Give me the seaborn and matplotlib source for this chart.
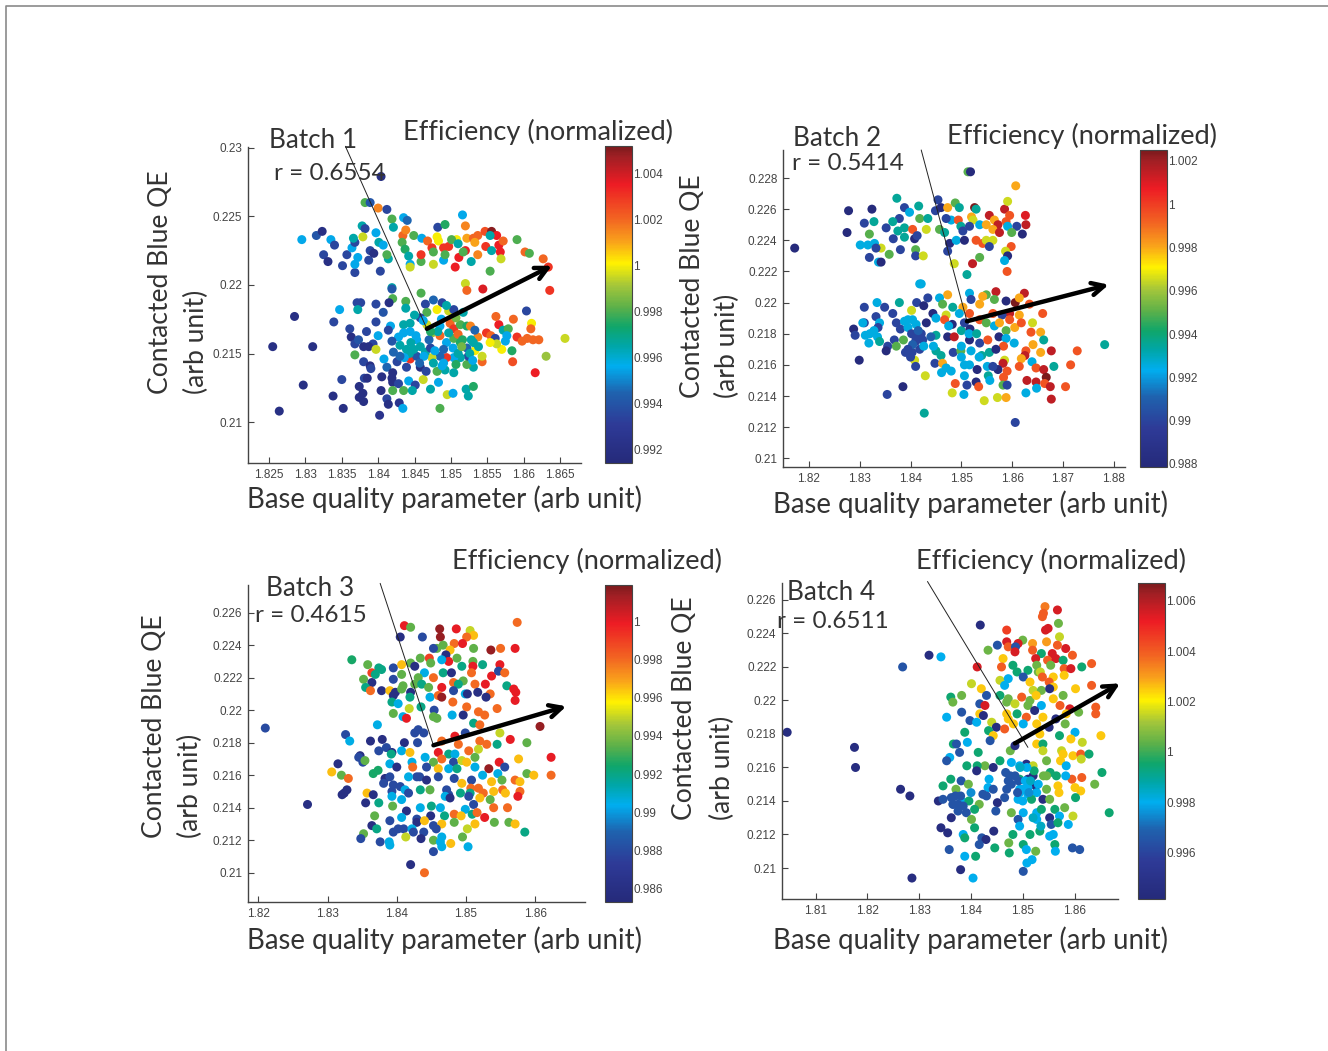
import matplotlib
matplotlib.use("Agg")
import matplotlib.pyplot as plt
from matplotlib.colors import Normalize, LinearSegmentedColormap
from matplotlib.cm import ScalarMappable
from matplotlib.lines import Line2D
import pandas as pd
import seaborn as sns

# (base quality, contacted blue QE, normalized efficiency)
b1_upper = [(1.8295,.2233,.9955),(1.8315,.2236,.994),(1.8323,.2239,.992),(1.8335,.2233,.9955),(1.834,.2229,.9935),(1.8325,.2222,.9935),(1.8331,.2217,.992),(1.8351,.2214,.9935),(1.8357,.2222,.9935),(1.8368,.2209,.9935),
(1.8368,.2215,.9955),(1.8372,.222,.9955),(1.8364,.2227,.9955),(1.8368,.2231,.9935),(1.8366,.2234,.9965),(1.8378,.2243,.9965),(1.8382,.2241,.9935),(1.8379,.2235,.9995),(1.8389,.2225,.9935),(1.8387,.2218,.9935),
(1.8394,.2223,.992),(1.8397,.2238,.9955),(1.8403,.221,.9935),(1.8401,.2231,.9965),(1.8407,.2229,.9955),(1.8414,.2219,.9965),(1.8412,.2222,.998),(1.8419,.2248,.998),(1.8421,.2242,.9965),(1.8435,.2249,.9955),
(1.844,.2247,.9945),(1.8434,.2236,1.002),(1.8438,.224,1.0015),(1.8433,.2231,.998),(1.8449,.2236,.998),(1.8437,.2226,.9975),(1.8442,.2221,.9965),(1.8444,.2215,.9955),(1.8444,.2213,.9995),(1.8459,.2217,.998),
(1.8459,.2222,1.003),(1.846,.2234,.9955),(1.8468,.2232,1.002),(1.8474,.2227,1.003),(1.8476,.2224,.998),(1.8476,.2215,.9995),(1.8482,.2242,.9935),(1.8492,.2244,.9975),(1.8481,.2235,1.0),(1.8483,.2232,1.0),
(1.8490,.2218,.9955),(1.849,.2227,1.003),(1.8497,.2228,1.003),(1.8492,.2222,.998),(1.8508,.2233,1.0),(1.8501,.2233,.998),(1.851,.223,.9965),(1.8506,.2213,1.0035),(1.8511,.222,1.0035),(1.8520,.2225,1.0035),
(1.8517,.2224,.998),(1.8516,.2251,.9955),(1.852,.2243,1.0015),(1.8522,.2234,1.001),(1.8528,.2217,.9965),(1.8531,.2234,1.002),(1.8537,.2236,1.002),(1.8533,.2231,1.001),(1.8537,.2222,1.0015),(1.8547,.2239,1.0025),
(1.8556,.2239,1.005),(1.8563,.2236,1.0035),(1.8554,.2236,.9965),(1.8548,.2228,1.003),(1.8556,.2225,.9965),(1.8566,.2229,1.0035),(1.8572,.2232,1.002),(1.8568,.2224,1.0035),(1.8569,.2219,.9995),(1.8554,.221,.998),
(1.8591,.2233,.998),(1.8602,.2224,1.002),(1.8608,.2223,.998),(1.8627,.2219,1.002),(1.8634,.2213,1.003),(1.8636,.2196,1.003),(1.8544,.2197,1.0038),(1.8520,.2201,.9995),(1.8522,.2196,1.002),
(1.8404,.2279,.992),(1.8382,.226,.998),(1.8389,.226,.994),(1.84,.2256,1.0015),(1.8412,.2255,.9935)]
b1_lower = [(1.8419,.2198,.9965),(1.8419,.2197,.994),(1.8459,.2194,.998),(1.8420,.2190,.998),(1.8371,.2187,.9935),(1.8376,.2187,.9935),(1.8397,.2186,.9935),(1.8415,.2187,.992),(1.8438,.2188,.998),(1.8476,.2189,.9945),
(1.8488,.2187,.9935),(1.8465,.2186,.9935),(1.8347,.2182,.9955),(1.8372,.2182,.9965),(1.8407,.218,.994),(1.8438,.2183,.9965),(1.8285,.2177,.992),(1.8339,.2173,.9935),(1.8397,.2173,.9935),(1.8361,.2168,.9935),
(1.8384,.2166,.9935),(1.8400,.2163,.9955),(1.8363,.2162,.992),(1.8368,.2157,.9935),(1.8373,.216,.994),(1.8393,.2157,.9935),(1.838,.2155,.992),(1.8387,.2155,.992),(1.8397,.2153,.9995),(1.8368,.2149,.998),
(1.8408,.2146,.9955),(1.8255,.2155,.992),(1.831,.2155,.992),(1.8380,.2144,.9935),(1.8389,.2141,.992),(1.839,.2139,.9935),(1.8412,.214,.9945),(1.8420,.2136,.992),(1.8426,.2144,.9935),(1.8439,.214,.9935),
(1.8458,.2140,.992),(1.8350,.2131,.9935),(1.8381,.2132,.9935),(1.8385,.2132,.992),(1.8405,.2133,.992),(1.8419,.2132,.992),(1.8420,.2129,.992),(1.8428,.2128,.9935),(1.8442,.213,.9955),(1.8451,.2127,.9935),
(1.8462,.2131,.9995),(1.8297,.2127,.992),(1.8374,.2126,.992),(1.8379,.2121,.992),(1.8404,.2123,.992),(1.8420,.2123,.998),(1.8435,.2123,.998),(1.8447,.2123,.9965),(1.8472,.2124,.9965),(1.8483,.2129,.9955),
(1.8338,.2119,.992),(1.8374,.2118,.992),(1.8380,.2115,.992),(1.8412,.2117,.9935),(1.8414,.2113,.992),(1.8429,.2114,.9925),(1.8434,.2110,.9955),(1.8352,.211,.992),(1.8264,.2108,.992),(1.8402,.2105,.9925),
(1.8485,.211,.998),(1.8495,.2120,.9995),(1.8503,.2121,.9955),(1.8521,.2124,.9965),(1.8531,.2126,.9975),(1.8524,.2119,.9965),(1.8466,.2137,.9935),
(1.8467,.2180,.998),(1.8481,.2182,1.0),(1.8497,.2181,.9995),(1.8504,.2182,.9935),(1.8517,.218,.9965),(1.8494,.2185,.9965),(1.8444,.2172,.9965),(1.8458,.2176,.9935),(1.8467,.2171,.9995),(1.8474,.2165,.999),
(1.8485,.217,.9955),(1.8499,.2172,1.002),(1.8504,.2168,1.003),(1.8513,.2171,.998),(1.8522,.2170,.9975),(1.8527,.217,1.0015),(1.8562,.2177,1.002),(1.8566,.2171,1.0035),(1.8586,.2175,1.002),(1.8604,.2181,.9935),
(1.8611,.2172,1.0),(1.861,.2168,1.002),(1.8549,.2165,1.003),(1.8555,.2163,1.002),(1.8561,.2161,.9935),(1.8572,.2167,.9965),(1.8579,.2168,.998),(1.8577,.2163,.9955),(1.8575,.2159,.9955),(1.8591,.2162,1.003),
(1.8598,.2159,1.002),(1.8605,.2161,1.002),(1.8613,.216,1.002),(1.8621,.216,1.002),(1.8657,.2161,.9995),(1.8631,.2148,.999),(1.8616,.2136,1.0035),(1.8585,.2144,1.0025),(1.8584,.2152,.9975),(1.8570,.2153,1.0),
(1.8563,.2157,.9995),(1.8554,.2158,1.0),(1.8543,.2144,1.002),(1.8543,.2148,.9995),(1.8533,.2152,1.0),(1.8531,.214,.9965),(1.8537,.2162,1.0015),(1.8533,.2167,.9945),(1.8522,.2142,.998),(1.8524,.2148,.9935),
(1.8504,.2136,.9965),(1.8492,.2138,.9965),(1.8481,.2137,.998),(1.8488,.2141,.9955),(1.8513,.2147,.9965),(1.8504,.2147,.9955),(1.8494,.2147,1.003),(1.8485,.2148,.9945),(1.8474,.2147,.9995),(1.8444,.2146,1.003),
(1.8453,.2148,.994),(1.8465,.2151,.9965),(1.8472,.2154,.9935),(1.8449,.2153,.9965),(1.8439,.2153,.9965),(1.8430,.2156,.9965),(1.8428,.2162,.9955),(1.8419,.2159,.994),(1.8421,.2151,.9945),(1.8417,.2170,.9955),
(1.8414,.2167,.9935),(1.8435,.2171,.9965),(1.8444,.2166,.9955),(1.8453,.2160,.9955),(1.8485,.2163,1.002),(1.8494,.2158,.9955),(1.8504,.2161,.998),(1.8513,.2158,.9975),(1.8522,.2154,.9945),(1.8531,.2158,.9965),(1.851,.2164,1.002)]
b1_core = [(1.8435,.2165,.9955),(1.8445,.2158,.9965),(1.8452,.2163,.9955),(1.8458,.2155,.9965),(1.8463,.2148,.9955),(1.8470,.2160,.9945),(1.8478,.2152,.9955),(1.8482,.2166,.9965),(1.8490,.2153,.9945),(1.8497,.2165,.9965),
(1.8503,.2154,.9955),(1.8510,.2150,.9965),(1.8516,.2160,.9975),(1.8526,.2150,.9965),(1.8443,.2150,.9965),(1.8436,.2147,.9955),(1.8457,.2143,.9945),(1.8476,.2143,.9965),(1.8490,.2143,.9955),(1.8507,.2142,.9975),
(1.8515,.2155,.9985),(1.8528,.2160,.9965),(1.8538,.2155,.9965),(1.8430,.2148,.9945),(1.8472,.2166,.9975),(1.8462,.2174,.9955),(1.8450,.2178,.9965),(1.8487,.2175,.9955),(1.8507,.2176,.9985),(1.8530,.2145,.9955)]

b2_upper = [(1.8172,.2235,.988),(1.8513,.2284,.995),(1.8518,.2284,.988),(1.8607,.2275,.998),(1.8373,.2267,.9935),(1.8278,.2259,.988),(1.8324,.226,.988),(1.8388,.2261,.99),(1.8416,.2262,.9935),(1.8454,.2266,.99),
(1.8398,.2258,.9925),(1.8378,.2254,.99),(1.8309,.2251,.99),(1.8328,.2252,.9935),(1.8275,.2245,.988),(1.8319,.2244,.995),(1.8352,.2248,.99),(1.8365,.2252,.9935),(1.8388,.2248,.9935),(1.8375,.2246,.9935),
(1.8366,.2241,.99),(1.8388,.2242,.9935),(1.8404,.2247,.9995),(1.8418,.2254,.995),(1.8434,.2254,.9935),(1.8431,.2247,.9965),(1.8408,.2241,.988),(1.8413,.2243,.99),(1.8301,.2237,.9925),(1.8316,.2237,.9925),
(1.8329,.2238,.9925),(1.8342,.2235,.9965),(1.8332,.2235,.99),(1.8380,.2234,.99),(1.8410,.2234,.995),(1.841,.223,.99),(1.8358,.2231,.995),(1.8425,.223,.9965),(1.8319,.2229,.99),(1.8337,.2226,.9925),
(1.8342,.2226,.988),(1.8457,.2247,.995),(1.8449,.2259,.99),(1.8460,.2261,.988),(1.8473,.2261,.998),(1.8488,.2264,.995),(1.8496,.2261,.9935),(1.8480,.2253,.9925),(1.8494,.2253,.9995),(1.8470,.2254,.99),
(1.8499,.2249,.9935),(1.8477,.2238,.988),(1.8467,.2245,.9935),(1.8490,.2240,.9925),(1.8506,.2240,.988),(1.8473,.2233,.99),(1.8526,.2261,1.0025),(1.8529,.226,.9935),(1.852,.2255,.998),(1.8523,.2253,.9965),
(1.8536,.225,.9925),(1.8516,.2249,.99),(1.8503,.2246,.99),(1.8555,.2256,1.0015),(1.8565,.2253,.998),(1.8572,.225,1.0015),(1.8562,.2247,.998),(1.8549,.225,.998),(1.8529,.224,.9995),(1.8542,.2238,.9995),
(1.8549,.224,.9965),(1.8575,.2245,1.0015),(1.8585,.2260,1.0015),(1.8591,.2265,.9965),(1.8595,.2256,.9995),(1.8588,.2252,.9995),(1.8626,.2256,1.001),(1.8627,.225,1.0015),(1.8609,.2249,.99),(1.862,.2244,.988),
(1.8591,.2249,.9925),(1.8599,.2245,.995),(1.8562,.2240,.9965),(1.8555,.2236,.99),(1.8598,.2236,.9995),(1.8587,.2233,.9965),(1.8591,.2230,.988),(1.8536,.2229,.995),(1.8585,.2227,.9925),(1.8522,.2225,1.0015),
(1.8590,.222,.9995),(1.8486,.2225,.9965),(1.8511,.2218,.9935)]
b2_lower = [(1.8418,.2212,.9925),(1.8421,.2212,.9925),(1.8568,.2207,1.0015),(1.8624,.2206,1.0015),(1.8516,.2206,.9925),(1.8549,.2205,.995),(1.8542,.2204,.998),(1.8473,.2205,.998),(1.8457,.2203,.9925),(1.8434,.2203,.99),
(1.8334,.2200,.9925),(1.8309,.2197,.99),(1.8349,.2197,.99),(1.8378,.22,.9935),(1.8412,.2200,.99),(1.8426,.2198,.988),(1.8463,.2199,.995),(1.8483,.2197,.9935),(1.8503,.2197,.998),(1.8519,.2202,.99),
(1.8536,.2199,.998),(1.8565,.2202,.995),(1.8588,.2201,.988),(1.8606,.22,1.0025),(1.8614,.2203,.998),(1.8634,.2199,.9995),(1.8660,.2193,.9995),(1.8365,.2193,.99),(1.8402,.2195,.9965),(1.8444,.2193,.988),
(1.8470,.2192,.9965),(1.8496,.2193,.9925),(1.8516,.2193,.9995),(1.8332,.2191,.99),(1.8614,.2192,.998),(1.8595,.2193,1.0015),(1.858,.2192,.99),(1.8562,.2193,.9995),(1.8309,.2187,.99),(1.8306,.2187,.9925),
(1.8288,.2183,.988),(1.8291,.2179,.99),(1.8311,.2179,.9925),(1.8339,.2187,.9925),(1.8336,.2184,.99),(1.8372,.2187,.99),(1.838,.2183,.99),(1.8395,.2189,.9925),(1.8404,.2189,.9925),(1.8411,.2186,.9925),
(1.8431,.2187,.988),(1.8421,.2180,.99),(1.8450,.2190,.9925),(1.8467,.2189,.9995),(1.8482,.2186,.988),(1.85,.2182,.9935),(1.8506,.2187,.99),(1.8517,.2183,.988),(1.8536,.2189,.9995),(1.8549,.2187,.995),
(1.8565,.2185,.9925),(1.8575,.2187,.998),(1.8588,.2182,.995),(1.8595,.2189,.9995),(1.8605,.2184,.998),(1.8640,.2187,.9965),(1.8618,.2187,.9995),(1.8637,.2181,.9995),(1.8656,.2181,.998),(1.8335,.2178,.9925),
(1.8339,.2175,.9935),(1.8368,.2176,.99),(1.8386,.2176,.995),(1.8411,.2177,.99),(1.8424,.2176,.99),(1.8450,.2179,.9935),(1.8473,.2178,.988),(1.8486,.2178,1.0015),(1.8516,.2176,.988),(1.8536,.2174,.99),
(1.8552,.2176,.9995),(1.8574,.2178,.988),(1.8588,.2177,.9925),(1.8604,.2174,.9925),(1.8583,.2172,.9995),(1.8662,.2176,.9935),(1.8641,.2173,.998),(1.8355,.2172,.99),(1.8372,.2172,.995),(1.8352,.2169,.988),
(1.8390,.2168,.99),(1.8403,.2168,.99),(1.8450,.2169,.9935),(1.846,.2166,.9935),(1.8484,.2168,.99),(1.8499,.2169,.995),(1.8519,.2169,.9925),(1.8540,.2166,.9935),(1.8555,.2168,.9935),(1.8568,.217,.988),
(1.8627,.2169,.9995),(1.8625,.2166,1.0015),(1.8656,.2168,.998),(1.8677,.2169,1.0015),(1.8728,.2169,.9995),(1.8782,.2173,.9935),(1.8618,.2164,.998),(1.8408,.2163,.9965),(1.8448,.2161,.99),(1.8463,.2161,.998),
(1.8500,.2165,.9925),(1.8506,.216,.9925),(1.8516,.2160,.9925),(1.8551,.2159,.9925),(1.8585,.2163,.9965),(1.8582,.2161,1.0015),(1.8614,.2159,.9995),(1.8639,.2162,.9925),(1.841,.2159,.99),(1.8470,.2158,.9925),
(1.8480,.2156,.9925),(1.8461,.2155,.9925),(1.8531,.2157,.988),(1.8572,.2157,.988),(1.8562,.2159,.99),(1.8590,.2156,.9995),(1.8647,.2158,.9995),(1.8662,.2157,1.0015),(1.8682,.2159,.9935),(1.8715,.2160,.9995),
(1.8667,.2152,1.0025),(1.8429,.2153,.9965),(1.8506,.2153,.9925),(1.8553,.2153,.9935),(1.8556,.2150,.9925),(1.8583,.2152,.9995),(1.8629,.2150,1.0015),(1.8647,.2149,1.0015),(1.8664,.2148,.9995),(1.8488,.2148,.9995),
(1.8511,.2147,.99),(1.8529,.2149,.988),(1.8534,.2146,.9995),(1.8582,.2147,.995),(1.8590,.2147,.99),(1.8675,.2146,1.0015),(1.8705,.2146,.9995),(1.8648,.2145,.9925),(1.8385,.2146,.988),(1.8482,.2142,.9965),
(1.8505,.2141,.9925),(1.8627,.2142,.9925),(1.8545,.2137,.9965),(1.8571,.2139,.9965),(1.8588,.2139,.998),(1.8677,.2138,1.0015),(1.8354,.2141,.99),(1.8427,.2129,.9935),(1.8606,.2123,.99),(1.8299,.2163,.988)]
b2_core = [(1.8388,.2188,.9925),(1.8395,.2184,.9925),(1.8402,.2180,.99),(1.8410,.2175,.99),(1.8418,.2170,.99),(1.8415,.2182,.991),(1.8404,.2173,.991),(1.8395,.2170,.99),(1.8400,.2165,.99),(1.8426,.2172,.9925),
(1.8440,.2178,.991),(1.8445,.2172,.9925),(1.8320,.2180,.9925),(1.8328,.2182,.9925),(1.8318,.2174,.9925),(1.8515,.2180,.9925),(1.8530,.2180,.9935),(1.8475,.2185,.9925),(1.8500,.2172,.9925),(1.8535,.2165,.9925)]

b3_upper = [(1.8411,.2252,1.0),(1.842,.2251,.9935),(1.8405,.2245,.986),(1.8437,.2245,.988),(1.8462,.225,1.0015),(1.8463,.2245,1.0015),(1.8486,.225,1.0),(1.8506,.2249,.995),(1.8511,.2246,.9965),(1.8501,.2245,.998),
(1.8574,.2254,.998),(1.8483,.2241,.998),(1.8495,.2241,1.0),(1.8458,.2238,.9935),(1.8467,.224,.9935),(1.8453,.2238,.988),(1.8477,.2237,.9965),(1.8471,.2234,.986),(1.8511,.2238,.9935),(1.8536,.2237,1.0015),
(1.8550,.2238,.998),(1.8571,.2238,1.0),(1.8335,.2231,.9925),(1.8358,.2228,.9935),(1.8407,.2228,.9965),(1.842,.2229,.9935),(1.8434,.2232,.9935),(1.8447,.2232,.999),(1.8449,.2229,.9935),(1.8475,.2230,1.0),
(1.8465,.2231,.9905),(1.8487,.2232,.9935),(1.8494,.2227,.992),(1.851,.2230,.9935),(1.8510,.2227,1.0),(1.8524,.2228,.992),(1.8549,.2228,1.0),(1.8374,.2226,.992),(1.8378,.2225,.992),(1.8395,.2226,.988),
(1.8364,.2223,.999),(1.8352,.2219,.9935),(1.8369,.2222,.992),(1.8395,.2219,.988),(1.8407,.2222,.9935),(1.8426,.2227,.986),(1.8440,.2223,.9905),(1.8431,.222,.9935),(1.8453,.222,.998),(1.8467,.2223,.992),
(1.8479,.2223,.986),(1.8508,.2223,.998),(1.8537,.2221,1.0),(1.8547,.2224,.988),(1.8556,.2223,.998),(1.8364,.2217,.986),(1.8355,.2214,.992),(1.8362,.2212,.998),(1.8378,.2212,.986),(1.8390,.2212,.9965),
(1.8398,.2211,.986),(1.8395,.2209,.986),(1.8409,.2215,.9935),(1.8426,.2216,.9935),(1.8436,.2216,.992),(1.8446,.2214,.9935),(1.8465,.2214,1.0),(1.8482,.2217,.998),(1.8496,.2218,.9935),(1.8489,.2216,.992),
(1.8513,.2216,.998),(1.8528,.2216,1.0),(1.8559,.2215,.992),(1.8569,.2213,1.0),(1.8572,.2211,1.0),(1.8407,.2213,.9935),(1.842,.2211,.986),(1.8448,.2208,.9905),(1.8460,.2209,.998),(1.8465,.2208,1.0015),
(1.8482,.2212,.988),(1.8499,.2210,.9905),(1.8502,.2210,.986),(1.8517,.2211,.986),(1.8535,.2210,.998),(1.8529,.2208,.986),(1.8571,.2206,1.0),(1.8419,.2208,.992),(1.8393,.2205,.992),(1.8402,.2204,.9905),
(1.8418,.2201,.995),(1.8435,.2202,.992),(1.8454,.2200,.988),(1.8481,.2205,.998),(1.8501,.2202,.998),(1.8545,.2201,.998),(1.8395,.2198,.9935),(1.8409,.2196,.9905),(1.8414,.2195,1.0),(1.8453,.2196,.9935),
(1.8458,.2195,.9935),(1.8480,.2197,.9905),(1.8496,.2197,.986),(1.8518,.2199,.998),(1.8527,.2197,.998),(1.8511,.2192,.992),(1.8520,.2191,.998)]
b3_lower = [(1.8210,.2189,.988),(1.8372,.2191,.9905),(1.8607,.2190,1.0015),(1.8431,.2188,.988),(1.8426,.2186,.988),(1.8439,.2186,.988),(1.8326,.2185,.988),(1.8332,.2181,.9905),(1.8362,.2181,.986),(1.8379,.2182,.986),
(1.8411,.2180,.986),(1.8430,.2180,.988),(1.8484,.2184,1.0),(1.8499,.2186,.988),(1.8549,.2186,.995),(1.8564,.2182,1.0),(1.8588,.2180,.9935),(1.8465,.2181,.998),(1.8489,.2179,.998),(1.8520,.2181,.998),
(1.8530,.2179,.998),(1.8545,.2179,.992),(1.8385,.2177,.988),(1.8374,.2175,.988),(1.8393,.2174,.986),(1.8407,.2175,.9905),(1.8419,.2174,.9965),(1.8460,.2174,1.0),(1.8475,.2173,.992),(1.8484,.2173,.9905),
(1.8504,.2175,.998),(1.8518,.2176,.995),(1.8347,.2172,.986),(1.8345,.2171,.988),(1.8392,.2173,.992),(1.8351,.2168,.988),(1.8354,.2169,.9935),(1.8315,.2167,.986),(1.8390,.2167,.9905),(1.8422,.2168,.9905),
(1.8441,.2171,.9905),(1.8453,.2168,.9935),(1.8465,.2170,.998),(1.8482,.2168,.988),(1.8494,.2169,.995),(1.8501,.2168,.9965),(1.8513,.2171,.9935),(1.8576,.2170,.9965),(1.8623,.2171,1.0),(1.8548,.2168,1.0),
(1.8556,.2165,.988),(1.8533,.2164,1.0015),(1.8306,.2162,.9965),(1.8320,.2160,.9935),(1.8330,.2158,.998),(1.8366,.2161,.9925),(1.8373,.2163,.9925),(1.8400,.2165,.986),(1.8423,.2165,.998),(1.8429,.2159,.988),
(1.8460,.2164,.9965),(1.8443,.2165,.988),(1.8475,.2164,.9905),(1.8487,.2164,.992),(1.8513,.2165,.9905),(1.8524,.2160,.9905),(1.8546,.2161,.9905),(1.8588,.2161,.9935),(1.8598,.2160,.9965),(1.8623,.2160,.998),
(1.8383,.2158,.986),(1.8390,.2159,.988),(1.8417,.2159,.9905),(1.8433,.2159,.988),(1.8443,.2157,.986),(1.8460,.2159,.988),(1.8483,.2158,.988),(1.8508,.2157,.988),(1.8537,.2156,.9965),(1.8552,.2157,.9935),
(1.8571,.2157,.998),(1.8578,.2156,.9965),(1.8494,.2155,.9965),(1.8381,.2155,.988),(1.8395,.2154,.988),(1.8405,.2153,.988),(1.8412,.2151,.9905),(1.8328,.2151,.986),(1.8324,.2149,.986),(1.8321,.2148,.986),
(1.8357,.2149,.9965),(1.8366,.2148,.986),(1.8434,.2151,.992),(1.8448,.2151,.9935),(1.8472,.2151,.988),(1.8507,.2152,.998),(1.8518,.2152,.998),(1.8553,.2151,.998),(1.8578,.2150,.998),(1.8393,.2150,.988),
(1.8417,.2149,.988),(1.8475,.2148,.988),(1.8492,.2149,.992),(1.8506,.2149,.992),(1.8525,.2149,.998),(1.8540,.2150,.9965),(1.8557,.2149,.9965),(1.8575,.2147,1.0),(1.8355,.2143,.986),(1.8374,.2143,.992),
(1.8393,.2147,.9905),(1.8407,.2145,.9905),(1.8470,.2147,.9905),(1.8477,.2146,.986),(1.8504,.2147,.988),(1.8520,.2146,.9965),(1.8535,.2145,.9935),(1.8271,.2142,.986),(1.8394,.2141,.9935),(1.8434,.2140,.9905),
(1.8450,.2141,.992),(1.8463,.2140,.9905),(1.8499,.2139,.9905),(1.8511,.2142,.988),(1.8540,.2140,.998),(1.8560,.2140,.998),(1.8414,.2138,.986),(1.8483,.2136,.998),(1.8493,.2135,.9965),(1.8509,.2136,.992),
(1.8516,.2137,.998),(1.8527,.2134,1.0),(1.8368,.2135,.9935),(1.8390,.2132,.988),(1.8407,.2134,.9905),(1.8449,.2135,.986),(1.8469,.2135,.992),(1.8429,.2133,.988),(1.8429,.2131,.986),(1.8440,.2132,.9965),
(1.8483,.2131,.9935),(1.8364,.2129,.986),(1.8371,.2127,.992),(1.8395,.2125,.988),(1.8402,.2127,.988),(1.8410,.2127,.988),(1.8422,.2127,.9905),(1.8453,.2129,.988),(1.8465,.2130,.9965),(1.8513,.2130,.9965),
(1.8502,.2127,.995),(1.8541,.2131,.9935),(1.8562,.2131,.9935),(1.8571,.2130,.9965),(1.8585,.2125,.992),(1.8439,.2125,.988),(1.8457,.2127,.988),(1.8424,.2125,.988),(1.8352,.2124,.9935),(1.8348,.2121,.988),
(1.8413,.2122,.995),(1.8435,.2121,.986),(1.8465,.2122,.9905),(1.8495,.2122,.9935),(1.8453,.2120,.9935),(1.8463,.2119,.9905),(1.8376,.2119,.988),(1.8389,.2119,.9905),(1.8390,.2117,.9905),(1.8478,.2118,.9965),
(1.8503,.2116,.9905),(1.8465,.2116,.9905),(1.8453,.2113,.988),(1.8420,.2105,.986),(1.8440,.2100,.998)]

b4_upper = [(1.8543,.2256,1.0035),(1.8567,.2254,1.0055),(1.854,.2252,1.004),(1.8538,.2250,1.004),(1.8569,.2246,1.0005),(1.8418,.2245,.9945),(1.8549,.2243,1.0055),(1.8544,.2242,1.0055),(1.8469,.2242,1.0045),(1.8571,.2238,1.0015),
(1.8469,.2235,1.0055),(1.8472,.2232,1.004),(1.8500,.2236,1.0005),(1.8491,.2234,1.0055),(1.8451,.2233,.9965),(1.8486,.2232,.9965),(1.8485,.2229,1.0055),(1.8519,.2234,1.003),(1.8546,.2235,1.003),(1.8567,.2233,1.004),
(1.8433,.2230,1.0005),(1.8519,.2230,1.004),(1.8583,.2231,1.0055),(1.8536,.2228,.9995),(1.8557,.2228,1.0055),(1.8596,.2227,1.004),(1.8319,.2227,.9945),(1.8342,.2226,.998),(1.8268,.222,.9965),(1.8412,.2220,1.0055),
(1.8462,.2225,1.0025),(1.8525,.2225,1.0055),(1.8548,.2224,1.004),(1.8564,.2225,1.0055),(1.8578,.2224,.9995),(1.8459,.222,1.004),(1.8481,.2221,.9995),(1.8527,.2221,1.0005),(1.8554,.2221,1.0005),(1.8633,.2222,1.004),
(1.8614,.2220,.9995),(1.8580,.2219,1.004),(1.8593,.2219,1.0055),(1.8489,.2217,.9995),(1.8510,.2218,.9995),(1.8530,.2217,1.0005),(1.8534,.2217,1.0015),(1.8580,.2215,1.0025),(1.8538,.2214,1.004),(1.8559,.2214,1.0025),
(1.8456,.2212,1.0015),(1.8472,.2213,.998),(1.8501,.2214,.9965),(1.8551,.2211,1.004),(1.8401,.2210,1.0015),(1.8465,.2209,.998),(1.8514,.2211,1.0025),(1.8633,.2209,1.004),(1.8420,.2207,1.0025),(1.8559,.2208,1.0025),
(1.8602,.2207,1.0025),(1.8520,.2206,1.0015),(1.8536,.2206,1.0005),(1.8552,.2207,.9945),(1.8430,.2203,.9965),(1.8361,.2202,.9995),(1.8382,.2203,1.0005),(1.8456,.2203,.9995),(1.8498,.2202,1.004),(1.8472,.2201,1.0005),
(1.8578,.2203,1.0005),(1.8514,.2200,1.0005),(1.8526,.2203,1.0025),(1.8559,.2201,1.0025),(1.8365,.2199,1.0005),(1.8417,.2198,.9965),(1.8427,.2197,1.0055),(1.8469,.2199,1.0005),(1.8485,.2198,1.0015),(1.8510,.2197,1.0005),
(1.8536,.2197,.998),(1.8572,.2197,1.004),(1.8591,.2195,1.0055),(1.8641,.2196,1.004),(1.8641,.2192,1.004),(1.8523,.2194,.9945),(1.8382,.2193,.9965),(1.8353,.2190,.998),(1.8417,.2192,1.0025),(1.8424,.2191,.9945),
(1.8469,.2192,1.0025),(1.8489,.2192,.9995),(1.8507,.219,1.004),(1.8539,.2190,1.0025),(1.8564,.2189,.9945),(1.8584,.2192,1.0025),(1.8608,.2193,1.0005)]
b4_lower = [(1.8398,.2188,.9965),(1.8411,.2187,.998),(1.8440,.2187,1.0015),(1.8472,.2189,1.0025),(1.8482,.2186,1.0025),(1.8501,.2186,.998),(1.8527,.2186,1.0025),(1.8551,.2184,.9945),(1.8582,.2186,1.0005),(1.8449,.2184,.9945),
(1.8434,.2182,.9995),(1.8465,.2183,1.004),(1.8388,.2181,.9995),(1.8443,.2179,1.0025),(1.8533,.2180,1.0025),(1.8571,.2179,.9995),(1.8651,.2179,1.0025),(1.8601,.2181,.998),(1.8437,.2176,.9965),(1.8366,.2174,.9995),
(1.8393,.2175,.998),(1.8372,.2174,.9965),(1.8527,.2174,1.0025),(1.8593,.2177,1.0025),(1.8615,.2175,1.0015),(1.8539,.2174,.9995),(1.8476,.2170,1.0005),(1.8485,.2173,.9945),(1.8414,.2169,.9995),(1.8378,.2169,.9965),
(1.8359,.2166,.998),(1.8353,.2164,.9965),(1.8539,.2170,1.0015),(1.8575,.2170,1.0015),(1.8578,.2168,1.0025),(1.8597,.2167,1.0025),(1.8612,.2168,1.004),(1.8628,.2168,.9995),(1.8613,.2165,1.0015),(1.8507,.2162,.9945),
(1.8456,.2164,.9995),(1.8478,.2163,.998),(1.8427,.2161,1.0005),(1.8412,.2161,.9995),(1.8392,.2161,.9995),(1.8443,.2160,.9945),(1.8411,.2158,.9945),(1.8520,.2161,1.0015),(1.8494,.2161,.998),(1.8546,.2164,1.0005),
(1.8573,.2164,1.0025),(1.8584,.2161,.998),(1.8653,.2157,.9995),(1.8467,.2157,.9965),(1.8476,.2155,.9965),(1.8494,.2153,.9995),(1.8510,.2153,.9945),(1.8520,.2155,.9945),(1.8553,.2157,.9995),(1.8595,.2153,1.004),
(1.8614,.2154,1.004),(1.8361,.2153,.9995),(1.8381,.2152,.9965),(1.8435,.2153,.998),(1.8472,.2152,.9965),(1.8525,.2149,.9945),(1.8546,.2155,1.0005),(1.8565,.2155,.9995),(1.8583,.2155,.998),(1.8639,.2150,1.0005),
(1.8346,.2149,.9995),(1.8395,.2150,1.0005),(1.8433,.2148,.998),(1.8443,.2147,.9965),(1.8469,.2147,.9965),(1.8494,.2147,.998),(1.8510,.2148,.998),(1.8546,.2147,1.0005),(1.8568,.2149,1.0025),(1.8601,.2148,1.0025),
(1.8612,.2146,1.0025),(1.8371,.2147,1.0005),(1.8423,.2144,.9965),(1.8430,.2143,.9965),(1.8465,.2142,.9965),(1.8494,.2145,.998),(1.8510,.2144,.998),(1.8527,.2145,.998),(1.8570,.2145,1.0025),(1.8602,.2142,.9995),
(1.8337,.2140,.9945),(1.8346,.2141,.9965),(1.8362,.2142,.9965),(1.8366,.2138,.9965),(1.8382,.2140,.998),(1.8396,.2140,.9995),(1.8416,.2138,1.0005),(1.8451,.2139,.9945),(1.8491,.2141,.998),(1.8517,.2141,.9995),
(1.8539,.2141,.9945),(1.8552,.2141,1.0005),(1.8581,.2136,1.0005),(1.8375,.2134,.9965),(1.8391,.2133,.9965),(1.8407,.2135,.9995),(1.8448,.2134,.9965),(1.8501,.2133,.998),(1.8527,.2133,.998),(1.8562,.2135,.9995),
(1.8667,.2133,.9995),(1.8362,.2130,.9945),(1.8401,.2129,1.0005),(1.8478,.2133,1.0005),(1.8536,.2135,.9995),(1.8552,.2130,.9945),(1.8571,.2131,.998),(1.8597,.2131,1.0015),(1.8491,.2129,.9965),(1.8494,.2125,.998),
(1.8527,.2129,.998),(1.8555,.2126,.9965),(1.8588,.2126,.998),(1.8568,.2127,.9995),(1.8342,.2124,.9945),(1.8355,.2121,.9945),(1.8407,.2124,.9995),(1.8444,.2122,.9945),(1.8533,.2122,.9995),(1.8385,.2120,.998),
(1.8388,.2118,.9995),(1.8421,.2118,.9965),(1.8429,.2117,.9945),(1.8481,.2120,.9995),(1.8514,.2120,.9995),(1.8559,.2120,.998),(1.8552,.2119,.998),(1.8473,.2115,1.0005),(1.8501,.2114,.9995),(1.8416,.2114,.9965),
(1.8446,.2112,.9995),(1.8358,.2111,.9965),(1.8507,.2111,.998),(1.8525,.2110,1.0005),(1.8562,.2114,.9995),(1.8563,.2110,.998),(1.8596,.2112,.9965),(1.8610,.2111,.9965),(1.8474,.2109,.9995),(1.8388,.2107,.998),
(1.8409,.2107,.9995),(1.8518,.2105,.998),(1.8508,.2103,.998),(1.8380,.2099,.9945),(1.8404,.2094,.998),(1.8501,.2098,.9965),(1.8286,.2094,.9945),(1.8045,.2181,.9945),(1.8175,.2172,.9945),(1.8177,.216,.9945),
(1.8264,.2147,.9945),(1.8282,.2143,.9945)]
b4_core = [(1.8478,.2150,.9965),(1.8485,.2155,.9965),(1.8492,.2152,.9965),(1.8500,.2147,.998),(1.8505,.2152,.998),(1.8512,.2145,.9975),(1.8500,.2140,.998),(1.8490,.2145,.9965),(1.8515,.2152,.9985),(1.8522,.2158,.9995),
(1.8508,.2160,.998),(1.8495,.2160,.9985),(1.8530,.2150,.998),(1.8540,.2155,1.0005),(1.8365,.2138,.9965),(1.8375,.2138,.9965),(1.8385,.2137,.9965),(1.8380,.2143,.9965),(1.8370,.2143,.9965),(1.8400,.2145,.9975),(1.8520,.2130,.9985),(1.8535,.2125,.9985)]

xticks_1 = [1.825,1.83,1.835,1.84,1.845,1.85,1.855,1.86,1.865]
xlabels_1 = ["1.825","1.83","1.835","1.84","1.845","1.85","1.855","1.86","1.865"]
yticks_1 = [.21,.215,.22,.225,.23]
ylabels_1 = ["0.21","0.215","0.22","0.225","0.23"]
xticks_2 = [1.82,1.83,1.84,1.85,1.86,1.87,1.88]
yticks_2 = [.21,.212,.214,.216,.218,.22,.222,.224,.226,.228]
ylabels_2 = ["0.21","0.212","0.214","0.216","0.218","0.22","0.222","0.224","0.226","0.228"]
xticks_3 = [1.82,1.83,1.84,1.85,1.86]
yticks_3 = yticks_2[:-1]
ylabels_3 = ylabels_2[:-1]
xticks_4 = [1.81,1.82,1.83,1.84,1.85,1.86]
yticks_4 = yticks_3
ylabels_4 = ylabels_3
cticks_1 = [.992,.994,.996,.998,1,1.002,1.004]
clabels_1 = ["0.992","0.994","0.996","0.998","1","1.002","1.004"]
cticks_2 = [.988,.99,.992,.994,.996,.998,1,1.002]
clabels_2 = ["0.988","0.99","0.992","0.994","0.996","0.998","1","1.002"]
cticks_3 = [.986,.988,.99,.992,.994,.996,.998,1]
clabels_3 = ["0.986","0.988","0.99","0.992","0.994","0.996","0.998","1"]
cticks_4 = [.996,.998,1,1.002,1.004,1.006]
clabels_4 = ["0.996","0.998","1","1.002","1.004","1.006"]

W, H = 1328, 1051
sns.set_theme(style="white")
plt.rcParams["font.family"] = ["Lato", "DejaVu Sans"]
TC = "#333333"
TICK = "#444444"
# the print-toned jet scale seen in the colour bars
JET = LinearSegmentedColormap.from_list("print_jet", [
    (0.00, "#252a7a"), (0.12, "#2e3a97"), (0.22, "#1f62ae"), (0.305, "#00aeef"), (0.37, "#00a6a6"),
    (0.43, "#10a66a"), (0.49, "#5bb04a"), (0.56, "#a4c63a"), (0.63, "#fff200"), (0.70, "#f9a11b"),
    (0.77, "#f26522"), (0.88, "#ed1c24"), (0.97, "#9e1f24"), (1.00, "#7a1a1c")])
fig = plt.figure(figsize=(W / 100, H / 100), dpi=100)

def box(l, t, r, b):
    return [l / W, 1 - b / H, (r - l) / W, (b - t) / H]

def label(x, y, s, size):
    fig.text(x / W, 1 - y / H, s, color=TC, fontsize=size, va="center")

panels = [
 dict(pts=b1_upper + b1_lower + b1_core, ax=(248,147,581,463), xlim=(1.8221,1.8679), ylim=(.20702,.23005),
      cax=(605,146,632,463), clim=(.9914,1.0052), xt=xticks_1, xl=xlabels_1, yt=yticks_1, yl=ylabels_1, ct=cticks_1, cl=clabels_1,
      line=((1.8355,.2301),(1.8467,.2168)), arrow=((1.8467,.2168),(1.8639,.2214)),
      batch=("Batch 1",269,141), r=("r = 0.6554",274,174), eff=(403,132), xlab=(247,499), yl1=(160,394), yl2=(196,394)),
 dict(pts=b2_upper + b2_lower + b2_core, ax=(783,150,1125,467), xlim=(1.8149,1.8822), ylim=(.20944,.2298),
      cax=(1140,150,1167,467), clim=(.98786,1.0025), xt=xticks_2, xl=[f"{v:g}" for v in xticks_2], yt=yticks_2, yl=ylabels_2, ct=cticks_2, cl=clabels_2,
      line=((1.8421,.2298),(1.8511,.2188)), arrow=((1.8511,.2188),(1.8790,.22115)),
      batch=("Batch 2",793,138), r=("r = 0.5414",792,164), eff=(947,136), xlab=(773,504), yl1=(692,398), yl2=(727,398)),
 dict(pts=b3_upper + b3_lower, ax=(248,585,585,902), xlim=(1.8185,1.8672), ylim=(.2082,.2277),
      cax=(605,585,632,902), clim=(.9853,1.0019), xt=xticks_3, xl=[f"{v:g}" for v in xticks_3], yt=yticks_3, yl=ylabels_3, ct=cticks_3, cl=clabels_3,
      line=((1.8376,.2278),(1.8453,.21784)), arrow=((1.8453,.21784),(1.8645,.22024)),
      batch=("Batch 3",266,588), r=("r = 0.4615",255,615), eff=(452,561), xlab=(247,940), yl1=(154,838), yl2=(190,838)),
 dict(pts=b4_upper + b4_lower + b4_core, ax=(782,583,1118,899), xlim=(1.8035,1.8684), ylim=(.20815,.22701),
      cax=(1138,583,1165,899), clim=(.99417,1.0067), xt=xticks_4, xl=[f"{v:g}" for v in xticks_4], yt=yticks_4, yl=ylabels_4, ct=cticks_4, cl=clabels_4,
      line=((1.8316,.2271),(1.8510,.2172)), arrow=((1.8485,.21744),(1.8688,.22102)),
      batch=("Batch 4",787,593), r=("r = 0.6511",777,621), eff=(916,561), xlab=(773,940), yl1=(685,820), yl2=(722,820)),
]

for p in panels:
    ax = fig.add_axes(box(*p["ax"]))
    df = pd.DataFrame(p["pts"], columns=["quality", "qe", "eff"])
    norm = Normalize(*p["clim"])
    sns.scatterplot(data=df, x="quality", y="qe", hue="eff", hue_norm=norm, palette=JET,
                    s=42, linewidth=0, legend=False, ax=ax)
    ax.set_xlim(*p["xlim"]); ax.set_ylim(*p["ylim"])
    ax.set_xlabel(""); ax.set_ylabel("")
    ax.set_xticks(p["xt"], p["xl"], fontfamily="Liberation Sans")
    ax.set_yticks(p["yt"], p["yl"], fontfamily="Liberation Sans")
    ax.tick_params(direction="in", length=4, width=0.8, labelsize=8.5, colors=TICK, pad=4, bottom=True, left=True)
    ax.patch.set_alpha(0)
    sns.despine(ax=ax)
    for s in ("left", "bottom"):
        ax.spines[s].set_color("#444444"); ax.spines[s].set_linewidth(1.0)
    (x0, y0), (x1, y1) = p["line"]
    ax.plot([x0, x1], [y0, y1], color="#222222", lw=0.7, clip_on=False, zorder=5)
    ax.annotate("", xy=p["arrow"][1], xytext=p["arrow"][0], annotation_clip=False, zorder=6,
                arrowprops=dict(arrowstyle="->", color="black", lw=3.2, mutation_scale=22, shrinkA=0, shrinkB=0))
    cax = fig.add_axes(box(*p["cax"]))
    cb = fig.colorbar(ScalarMappable(norm=norm, cmap=JET), cax=cax)
    cb.set_ticks(p["ct"], labels=p["cl"], fontfamily="Liberation Sans")
    cb.ax.tick_params(direction="in", length=3, width=0.6, labelsize=8.5, colors=TICK, pad=1, right=True, left=True)
    cb.outline.set_edgecolor("#444444"); cb.outline.set_linewidth(0.8)
    label(p["batch"][1], p["batch"][2], p["batch"][0], 18.8)
    label(p["r"][1], p["r"][2], p["r"][0], 17.5)
    label(p["eff"][0], p["eff"][1], "Efficiency (normalized)", 19.6)
    label(p["xlab"][0], p["xlab"][1], "Base quality parameter (arb unit)", 19.9)
    fig.text(p["yl1"][0] / W, 1 - p["yl1"][1] / H, "Contacted Blue QE", rotation=90, color=TC, fontsize=19.1, ha="center", va="bottom")
    fig.text(p["yl2"][0] / W, 1 - p["yl2"][1] / H, "(arb unit)", rotation=90, color=TC, fontsize=19.1, ha="center", va="bottom")

# thin page frame along the top and left edges
fig.add_artist(Line2D([6 / W, 6 / W, 1], [0, 1 - 6 / H, 1 - 6 / H], transform=fig.transFigure, color="#8a8a8a", lw=1.2))
fig.savefig("out.png", dpi=100)
